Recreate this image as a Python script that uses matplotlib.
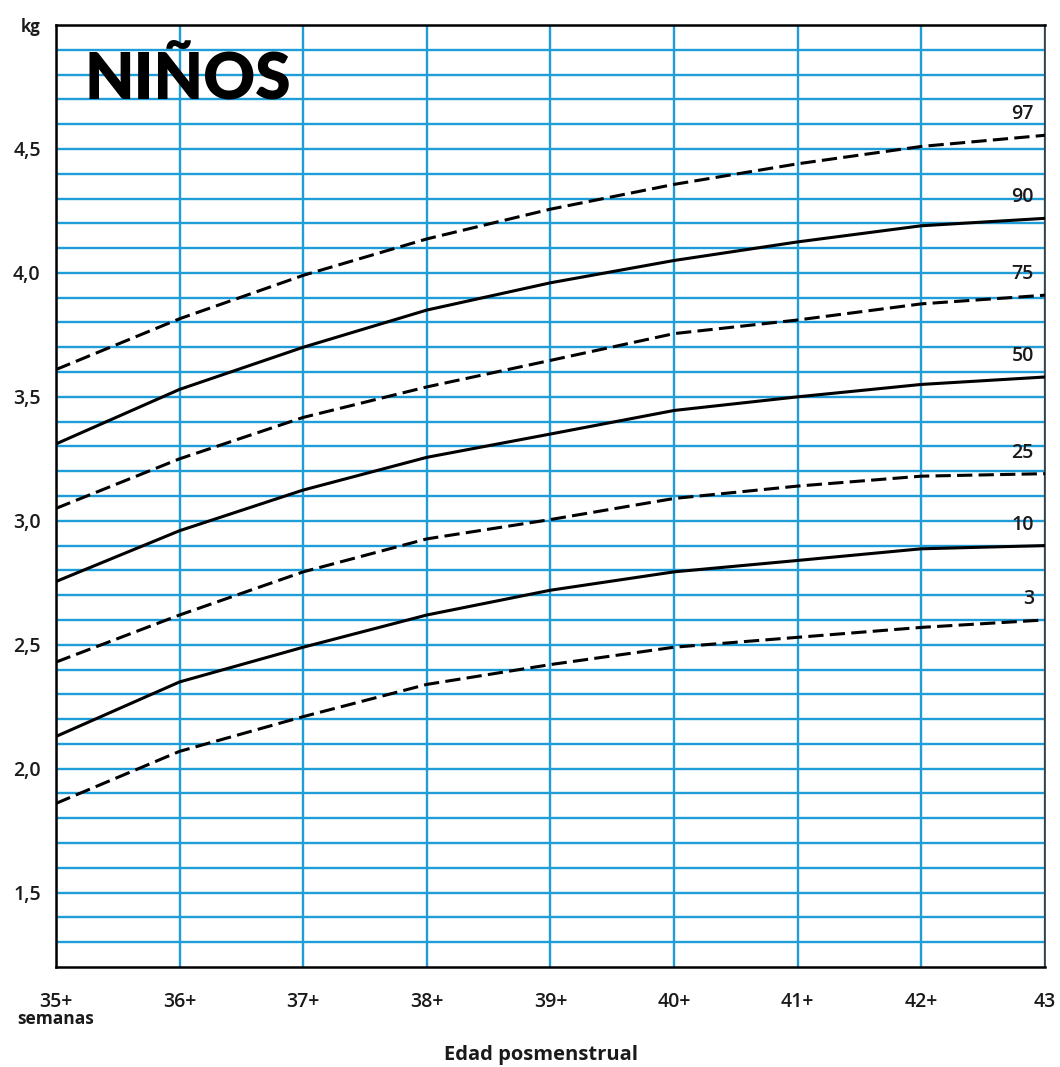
import matplotlib
matplotlib.use("Agg")
import matplotlib.pyplot as plt
import numpy as np

plt.rcParams['font.family'] = ['Open Sans', 'DejaVu Sans']
plt.rcParams['lines.scale_dashes'] = False

weeks = [35, 36, 37, 38, 39, 40, 41, 42, 43]
week_labels = ["35+", "36+", "37+", "38+", "39+", "40+", "41+", "42+", "43"]
unit_label = "semanas"

p97 = [3.61, 3.815, 3.99, 4.137, 4.257, 4.357, 4.44, 4.51, 4.555]
p90 = [3.31, 3.53, 3.70, 3.85, 3.96, 4.05, 4.125, 4.19, 4.22]
p75 = [3.05, 3.25, 3.417, 3.54, 3.647, 3.755, 3.81, 3.875, 3.91]
p50 = [2.755, 2.96, 3.124, 3.256, 3.35, 3.445, 3.50, 3.55, 3.58]
p25 = [2.43, 2.62, 2.794, 2.927, 3.005, 3.09, 3.14, 3.18, 3.19]
p10 = [2.13, 2.35, 2.49, 2.62, 2.72, 2.794, 2.84, 2.887, 2.90]
p3 = [1.86, 2.07, 2.21, 2.34, 2.42, 2.49, 2.53, 2.57, 2.60]

percentiles = ["97", "90", "75", "50", "25", "10", "3"]
series = [p97, p90, p75, p50, p25, p10, p3]
dashed = [True, False, True, False, True, False, True]

y_ticks = [1.5, 2.0, 2.5, 3.0, 3.5, 4.0, 4.5, 5.0]
y_labels = ["1,5", "2,0", "2,5", "3,0", "3,5", "4,0", "4,5", "kg"]

fig = plt.figure(figsize=(10.6, 10.67), dpi=100)
ax = fig.add_axes([0.0528, 0.0937, 0.9330, 0.8829])

grid_color = '#1f9dd8'
txt_color = '#1a1a1a'
ax.set_xlim(35, 43)
ax.set_ylim(1.2, 5.0)
ax.set_xticks(weeks)
ax.set_xticklabels(week_labels, fontsize=14, fontweight='semibold', color=txt_color)
ax.set_yticks(y_ticks)
ax.set_yticklabels(y_labels, fontsize=14, fontweight='semibold', color=txt_color)
for lab in ax.get_yticklabels():
    if lab.get_text() == "kg":
        lab.set_fontweight('bold')
        lab.set_fontsize(12)
ax.set_yticks(np.arange(1.3, 5.0, 0.1), minor=True)
ax.tick_params(axis='both', which='both', length=0)
ax.tick_params(axis='y', pad=11)
ax.tick_params(axis='x', pad=18)
ax.grid(True, which='both', color=grid_color, linewidth=1.7)
ax.set_axisbelow(True)

for sp in ['left', 'bottom', 'top']:
    ax.spines[sp].set_linewidth(1.8)
    ax.spines[sp].set_color('black')
ax.spines['right'].set_linewidth(1.2)
ax.spines['right'].set_color('#333333')

for name, vals, d in zip(percentiles, series, dashed):
    if d:
        ax.plot(weeks, vals, color='black', linewidth=2.2, dashes=(11, 4.5),
                solid_capstyle='butt', zorder=3)
    else:
        ax.plot(weeks, vals, color='black', linewidth=2.2, zorder=3)
    ax.text(42.91, vals[-1] + 0.085, name, ha='right', va='center',
            fontsize=14, fontweight='semibold', color=txt_color, zorder=4)

# "semanas" under the first tick label
ax.annotate(unit_label, xy=(weeks[0], 0), xycoords=('data', 'axes fraction'),
            xytext=(0, -37.5), textcoords='offset points', ha='center', va='center',
            fontsize=12.5, fontweight='bold', color=txt_color, annotation_clip=False)

ax.text(35.23, 4.703, "NIÑOS", fontsize=46, fontweight='heavy', color='black',
        ha='left', va='baseline', zorder=4, family=['Lato', 'DejaVu Sans'])

fig.text(0.51, 0.0115, "Edad posmenstrual", fontsize=14.5, fontweight='bold',
         color=txt_color, ha='center', va='center')

fig.savefig("out.png", dpi=100, facecolor='white')
